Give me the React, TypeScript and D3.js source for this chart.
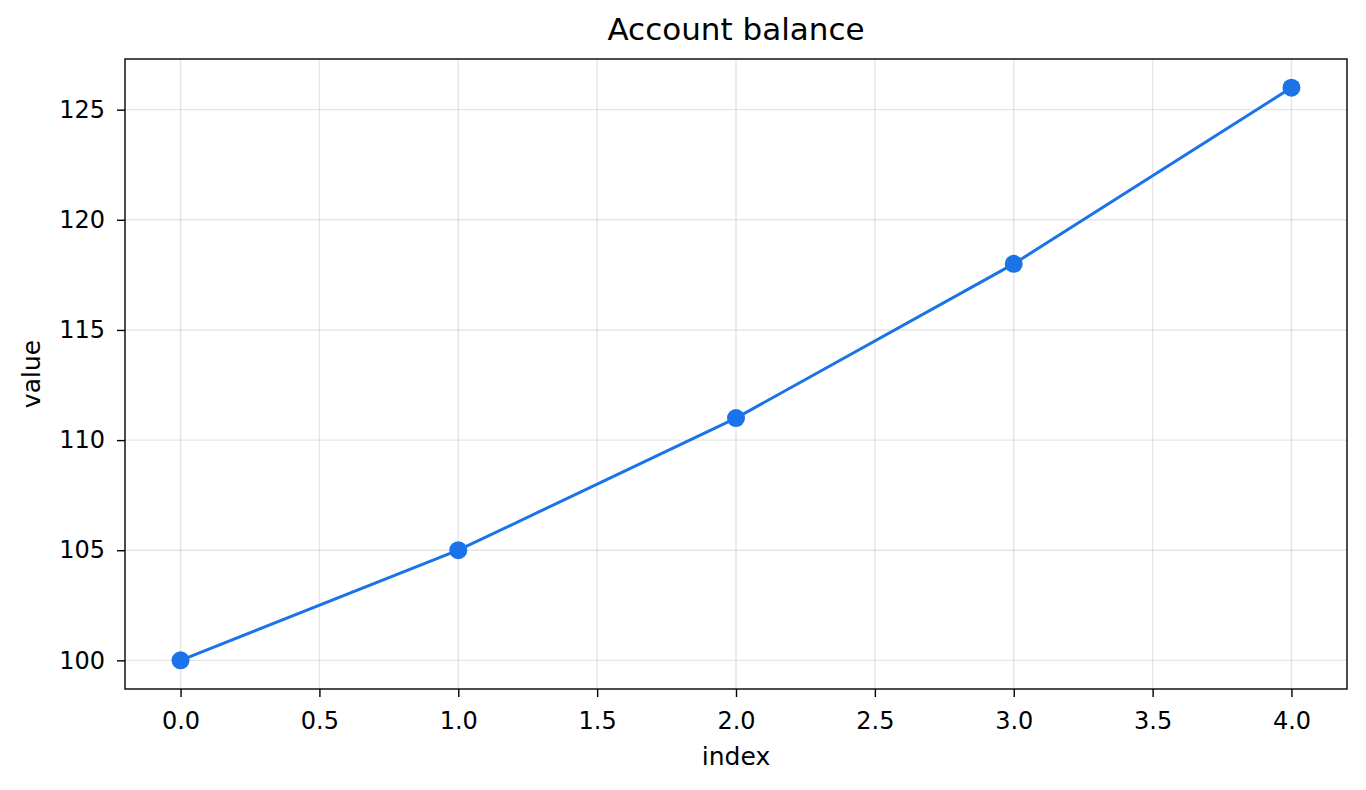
import { useEffect, useRef } from 'react'
import * as d3 from 'd3'

// data
const indices = [0, 1, 2, 3, 4]
const balances = [100, 105, 111, 118, 126]
const xTicks = [0, 0.5, 1, 1.5, 2, 2.5, 3, 3.5, 4]
const yTicks = [100, 105, 110, 115, 120, 125]

const W = 1366
const H = 790
const margin = { top: 59, right: 19, bottom: 101, left: 125 }
const FONT = 'DejaVu Sans, sans-serif'
const BLUE = '#1a73e8'
const TICK_FS = 24
const LABEL_FS = 25

export default function App() {
  const ref = useRef<SVGSVGElement>(null)

  useEffect(() => {
    const el = ref.current
    if (!el) return
    const svg = d3.select(el)
    svg.selectAll('*').remove()

    const iw = W - margin.left - margin.right
    const ih = H - margin.top - margin.bottom

    const x = d3.scaleLinear().domain([-0.2, 4.2]).range([0, iw])
    const y = d3.scaleLinear().domain([98.7, 127.3]).range([ih, 0])

    svg.append('rect').attr('width', W).attr('height', H).attr('fill', '#fff')

    const g = svg.append('g').attr('transform', `translate(${margin.left},${margin.top})`)

    // grid
    g.append('g').selectAll('line').data(xTicks).join('line')
      .attr('x1', d => x(d)).attr('x2', d => x(d))
      .attr('y1', 0).attr('y2', ih)
      .attr('stroke', '#000').attr('stroke-opacity', 0.1).attr('stroke-width', 1.4)
    g.append('g').selectAll('line').data(yTicks).join('line')
      .attr('y1', d => y(d)).attr('y2', d => y(d))
      .attr('x1', 0).attr('x2', iw)
      .attr('stroke', '#000').attr('stroke-opacity', 0.1).attr('stroke-width', 1.4)

    // axes
    const xAxis = d3.axisBottom(x).tickValues(xTicks).tickFormat(d3.format('.1f')).tickSize(8)
    const yAxis = d3.axisLeft(y).tickValues(yTicks).tickFormat(d3.format('d')).tickSize(8).tickPadding(12)

    const gx = g.append('g').attr('transform', `translate(0,${ih})`).call(xAxis)
    const gy = g.append('g').call(yAxis)
    for (const a of [gx, gy]) {
      a.attr('font-size', null).attr('font-family', null)
      a.select('.domain').remove()
      a.selectAll('.tick line').attr('stroke', '#000').attr('stroke-width', 1.4)
      a.selectAll('.tick text').attr('font-family', FONT).attr('font-size', TICK_FS).attr('fill', '#000')
    }
    gx.selectAll('.tick text').attr('y', 40).attr('dy', null)

    g.append('rect').attr('width', iw).attr('height', ih)
      .attr('fill', 'none').attr('stroke', '#000').attr('stroke-width', 1.4)

    // series
    const pts = indices.map((d, i) => [d, balances[i]] as [number, number])
    const line = d3.line<[number, number]>().x(d => x(d[0])).y(d => y(d[1]))
    g.append('path').datum(pts).attr('d', line)
      .attr('fill', 'none').attr('stroke', BLUE).attr('stroke-width', 3)
    g.append('g').selectAll('circle').data(pts).join('circle')
      .attr('cx', d => x(d[0])).attr('cy', d => y(d[1])).attr('r', 9)
      .attr('fill', BLUE)

    // labels
    svg.append('text').attr('x', margin.left + iw / 2).attr('y', 40)
      .attr('text-anchor', 'middle').attr('font-family', FONT).attr('font-size', 31)
      .text('Account balance')
    svg.append('text').attr('x', margin.left + iw / 2).attr('y', 765)
      .attr('text-anchor', 'middle').attr('font-family', FONT).attr('font-size', LABEL_FS)
      .text('index')
    svg.append('text').attr('transform', `translate(40,${margin.top + ih / 2}) rotate(-90)`)
      .attr('text-anchor', 'middle').attr('font-family', FONT).attr('font-size', LABEL_FS)
      .text('value')
  }, [])

  return (
    <div style={{ position: 'fixed', left: 0, top: 0 }}>
      <svg ref={ref} width={W} height={H} />
    </div>
  )
}
